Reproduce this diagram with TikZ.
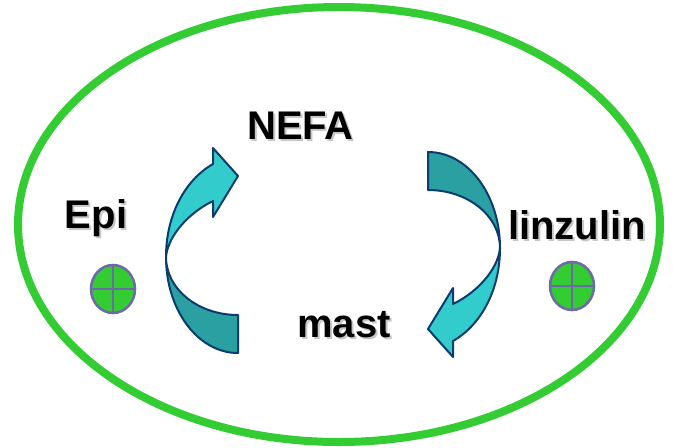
\documentclass[tikz,border=0pt]{standalone}
\usepackage{fontspec}
\setmainfont{Liberation Sans}
\usetikzlibrary{shapes.geometric}

\definecolor{cellgreen}{HTML}{33CC33}
\definecolor{plusrim}{HTML}{6E6AA8}
\definecolor{bandlight}{HTML}{33CCCC}
\definecolor{banddark}{HTML}{2AA0A2}
\definecolor{bandrim}{HTML}{0B3C6E}

\tikzset{
  lbl/.style={anchor=base, inner sep=0pt, font=\fontsize{30}{36}\selectfont\bfseries},
  shadowlbl/.style={lbl, text=black!22},
  plus/.style={ellipse, draw=plusrim, fill=cellgreen, line width=1.9pt,
               minimum width=33pt, minimum height=36pt, inner sep=0pt},
  band/.style={draw=bandrim, line width=1.5pt, line join=round},
  bentarrow/.pic={
    % back half of the band
    \fill[banddark] (166,257) .. controls (166,310) and (198,353) .. (238,353)
      -- (238,315) .. controls (198,315) and (166,289) .. cycle;
    \draw[band] (166,257) .. controls (166,310) and (198,353) .. (238,353)
      -- (238,315) .. controls (198,315) and (166,289) .. cycle;
    % front half with the head
    \draw[band, fill=bandlight] (166,257) .. controls (166,215) and (185,180) .. (213,164)
      -- (213,148) -- (238,176) -- (213,217) -- (213,201)
      .. controls (190,212) and (168,235) .. cycle;
  }
}

\begin{document}
\begin{tikzpicture}[x=0.75pt, y=-0.75pt]
  \useasboundingbox (0,0) rectangle (673,447);

  % the cell
  \node[ellipse, draw=cellgreen, line width=6pt, minimum width=481.5pt,
        minimum height=326.25pt] (cell) at (339,224.5) {};

  % the two turning arrows
  \pic {bentarrow};
  \begin{scope}[rotate around={180:(333,252.5)}]
    \pic[transform shape] {bentarrow};
  \end{scope}

  % labels
  \node[shadowlbl] (nefa-sh) at (302.5,141) {NEFA};
  \node[lbl] (nefa) at (300.5,139) {NEFA};
  \node[shadowlbl] (epi-sh) at (98,230) {Epi};
  \node[lbl] (epi) at (96,228) {Epi};
  \node[shadowlbl] (linz-sh) at (579,241) {linzulin};
  \node[lbl] (linz) at (577,239) {linzulin};
  \node[shadowlbl] (mast-sh) at (346,339) {mast};
  \node[lbl] (mast) at (344,337) {mast};

  % plus markers
  \node[plus] (epiplus) at (113,289) {};
  \draw[plusrim, line width=1.9pt] (epiplus.north) -- (epiplus.south);
  \draw[plusrim, line width=1.9pt] (epiplus.west) -- (epiplus.east);
  \node[plus] (linzplus) at (572,286) {};
  \draw[plusrim, line width=1.9pt] (linzplus.north) -- (linzplus.south);
  \draw[plusrim, line width=1.9pt] (linzplus.west) -- (linzplus.east);
\end{tikzpicture}
\end{document}
